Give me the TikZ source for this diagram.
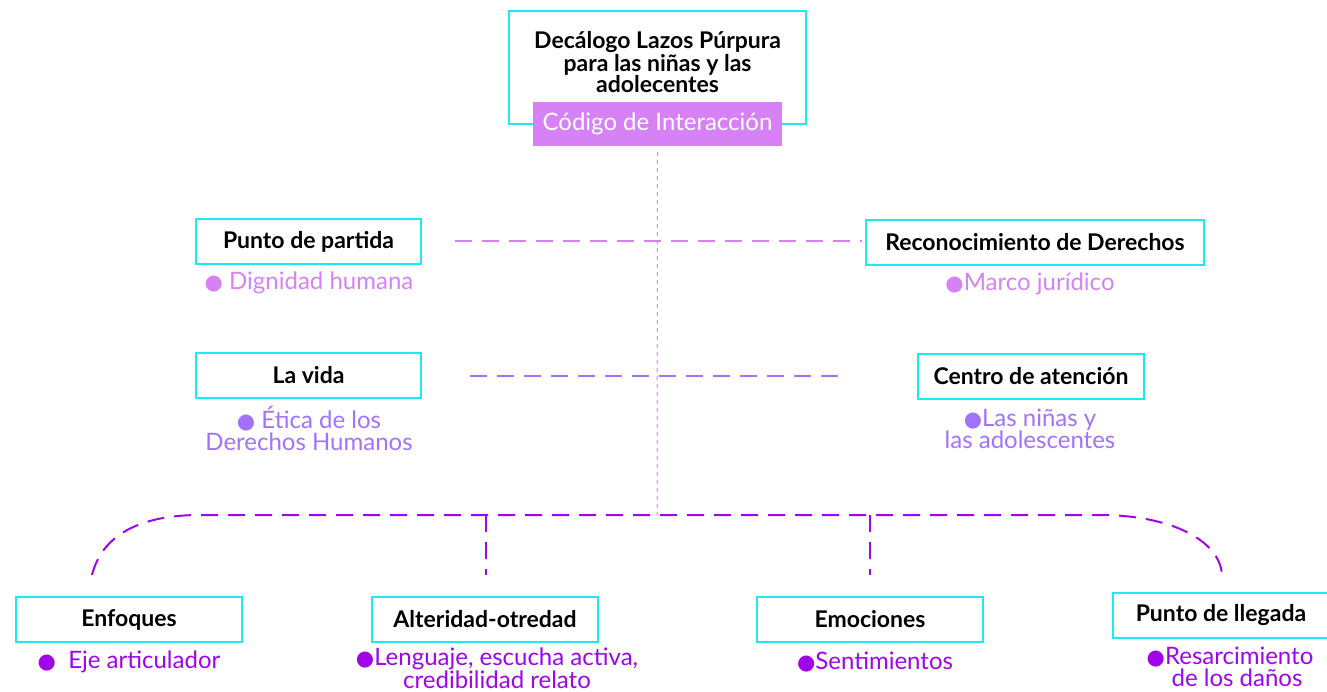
\documentclass[tikz,border=0pt]{standalone}
\usepackage{fontspec}
\setmainfont{Lato}
\newfontfamily\dejavu{DejaVu Sans}
\definecolor{cyanb}{HTML}{1CE9F2}
\definecolor{lpur}{HTML}{D682F6}
\definecolor{mpur}{HTML}{A173FC}
\definecolor{dpur}{HTML}{A004E8}
\newcommand{\bul}{{\dejavu\fontsize{21}{21}\selectfont ●}}
\tikzset{
  box/.style={draw=cyanb, line width=2pt, minimum height=45pt, inner sep=0pt,
    font=\fontsize{23}{25}\selectfont\bfseries, text=black},
  sub/.style={font=\fontsize{24}{22}\selectfont, align=center, inner sep=0pt},
  lline/.style={draw=lpur, line width=1.3pt, dash pattern=on 17pt off 10pt},
  mline/.style={draw=mpur, line width=1.5pt, dash pattern=on 17pt off 10pt},
  dline/.style={draw=dpur, line width=2pt, dash pattern=on 17pt off 10pt},
}
\begin{document}
\begin{tikzpicture}[x=1pt,y=-1pt]
\useasboundingbox (0,0) rectangle (1327,691);
% top
\node[draw=cyanb, line width=2pt, minimum width=297pt, minimum height=113pt, inner sep=0pt] (top) at (657.5,67.5) {};
\node[font=\fontsize{23}{21}\selectfont\bfseries, align=center, inner sep=0pt] (title) at (657.5,62)
  {Decálogo Lazos Púrpura\\para las niñas y las\\adolecentes};
\node[fill=lpur, minimum width=249pt, minimum height=44pt, inner sep=0pt, text=white,
  font=\fontsize{24}{26}\selectfont] (code) at (657.5,124) {Código de Interacción};
% vertical dotted line
\coordinate (join) at (657,515);
\draw[draw=lpur, line width=1pt, dash pattern=on 4pt off 4pt] (code.south) ++(0,6) -- (join);
% row 1
\node[box, minimum width=225pt] (partida) at (308.5,241.5) {Punto de partida};
\node[sub, text=lpur] (dign) at (309,283) {\bul\ Dignidad humana};
\node[box, minimum width=338pt] (recon) at (1035,242.5) {Reconocimiento de Derechos};
\node[sub, text=lpur] (marco) at (1030,284) {\bul Marco jurídico};
\coordinate (l1a) at (455,241);
\coordinate (l1b) at (862,241);
\draw[lline] (l1a) -- (l1b);
% row 2
\node[box, minimum width=225pt] (vida) at (308.5,375.5) {La vida};
\node[sub, text=mpur] (etica) at (309,428) {\bul\ Ética de los\\Derechos Humanos};
\node[box, minimum width=226pt] (centro) at (1031,376) {Centro de atención};
\node[sub, text=mpur] (ninas) at (1030,429) {\bul Las niñas y\\las adolescentes};
\coordinate (l2a) at (470,376);
\coordinate (l2b) at (846,376);
\draw[mline] (l2a) -- (l2b);
% bottom row
\node[box, minimum width=226pt] (enf) at (129,619.5) {Enfoques};
\node[sub, text=dpur] (eje) at (129,662) {\bul\ \ Eje articulador};
\node[box, minimum width=226pt] (alt) at (485,619.5) {Alteridad-otredad};
\node[sub, text=dpur, font=\fontsize{24}{21}\selectfont] (leng) at (497,668) {\bul Lenguaje, escucha activa,\\credibilidad relato};
\node[box, minimum width=226pt] (emo) at (870,619.5) {Emociones};
\node[box, minimum width=216pt] (lleg) at (1221,615.5) {Punto de llegada};
\node[sub, text=dpur] (sent) at (875,662) {\bul Sentimientos};
\node[sub, text=dpur] (resar) at (1230,667) {\bul Resarcimiento\\\hspace*{14pt}de los daños};
% bracket
\coordinate (bl) at (92,575);
\coordinate (br) at (1222,575);
\coordinate (b2) at (486,575);
\coordinate (b3) at (870,575);
\draw[dline] (bl) .. controls (102,535) and (140,515) .. (200,515) -- (1100,515)
  .. controls (1170,515) and (1220,540) .. (br);
\draw[dline] (486,515) -- (b2);
\draw[dline] (870,515) -- (b3);
\end{tikzpicture}
\end{document}
